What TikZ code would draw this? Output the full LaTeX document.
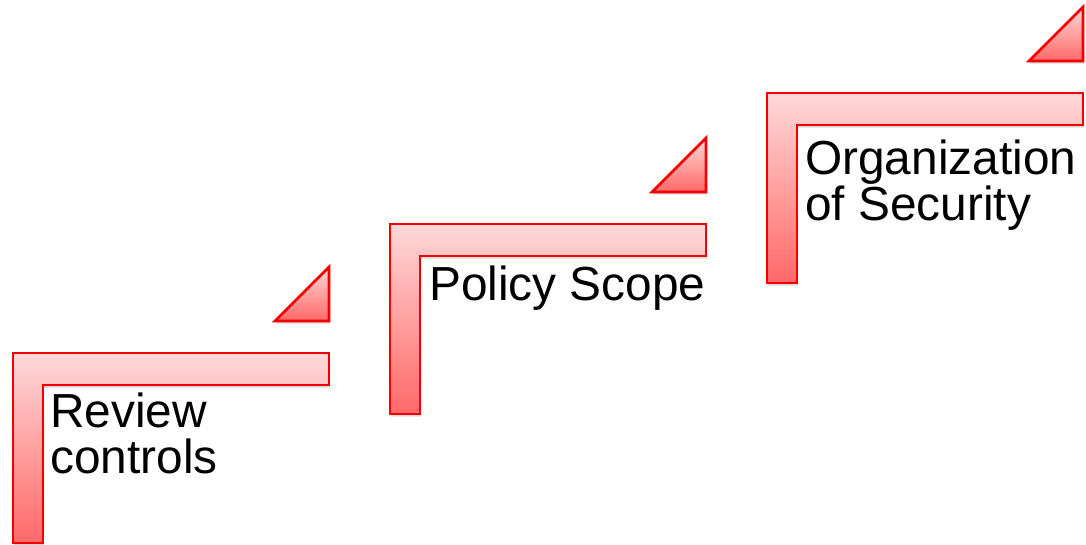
\documentclass[tikz,border=0pt]{standalone}
\usepackage{fontspec}
\setmainfont{Liberation Sans}
\usetikzlibrary{shadows}
\definecolor{stepTop}{RGB}{255,216,216}
\definecolor{stepBot}{RGB}{255,104,104}
\definecolor{stepLine}{RGB}{245,0,0}

\begin{document}
\begin{tikzpicture}[x=1pt,y=-1pt,
  stepshape/.style={draw=stepLine,line width=2.6pt,line join=miter,
    top color=stepTop,bottom color=stepBot,
    drop shadow={shadow xshift=1pt,shadow yshift=-2.5pt,opacity=0.3}},
  steplabel/.style={anchor=base west,inner sep=0pt,align=left,
    font=\fontsize{47.8}{46}\selectfont}]
\useasboundingbox (0,0) rectangle (1086,544);
\pgfmathsetmacro{\stepw}{316}
\pgfmathsetmacro{\barh}{32}
\pgfmathsetmacro{\postw}{30}
\pgfmathsetmacro{\posth}{190}
\pgfmathsetmacro{\tri}{54}
% corners of the three steps
\coordinate (s1) at (13,353);
\coordinate (s2) at (390,224);
\coordinate (s3) at (767,93);
% step 1
\draw[stepshape] (s1) -- ++(\stepw,0) -- ++(0,\barh) -- ++({\postw-\stepw},0) -- ++(0,{\posth-\barh}) -- ++(-\postw,0) -- cycle;
\draw[stepshape] ([shift={(\stepw,-\barh)}]s1) -- ++(0,-\tri) -- ++(-\tri,\tri) -- cycle;
% step 2
\draw[stepshape] (s2) -- ++(\stepw,0) -- ++(0,\barh) -- ++({\postw-\stepw},0) -- ++(0,{\posth-\barh}) -- ++(-\postw,0) -- cycle;
\draw[stepshape] ([shift={(\stepw,-\barh)}]s2) -- ++(0,-\tri) -- ++(-\tri,\tri) -- cycle;
% step 3
\draw[stepshape] (s3) -- ++(\stepw,0) -- ++(0,\barh) -- ++({\postw-\stepw},0) -- ++(0,{\posth-\barh}) -- ++(-\postw,0) -- cycle;
\draw[stepshape] ([shift={(\stepw,-\barh)}]s3) -- ++(0,-\tri) -- ++(-\tri,\tri) -- cycle;
% labels (base = last line)
\node[steplabel] (review) at (50,473) {Review\\controls};
\node[steplabel] (policy) at (429,300) {Policy Scope};
\node[steplabel] (organization) at (805,220) {Organization\\of Security};
\end{tikzpicture}
\end{document}
